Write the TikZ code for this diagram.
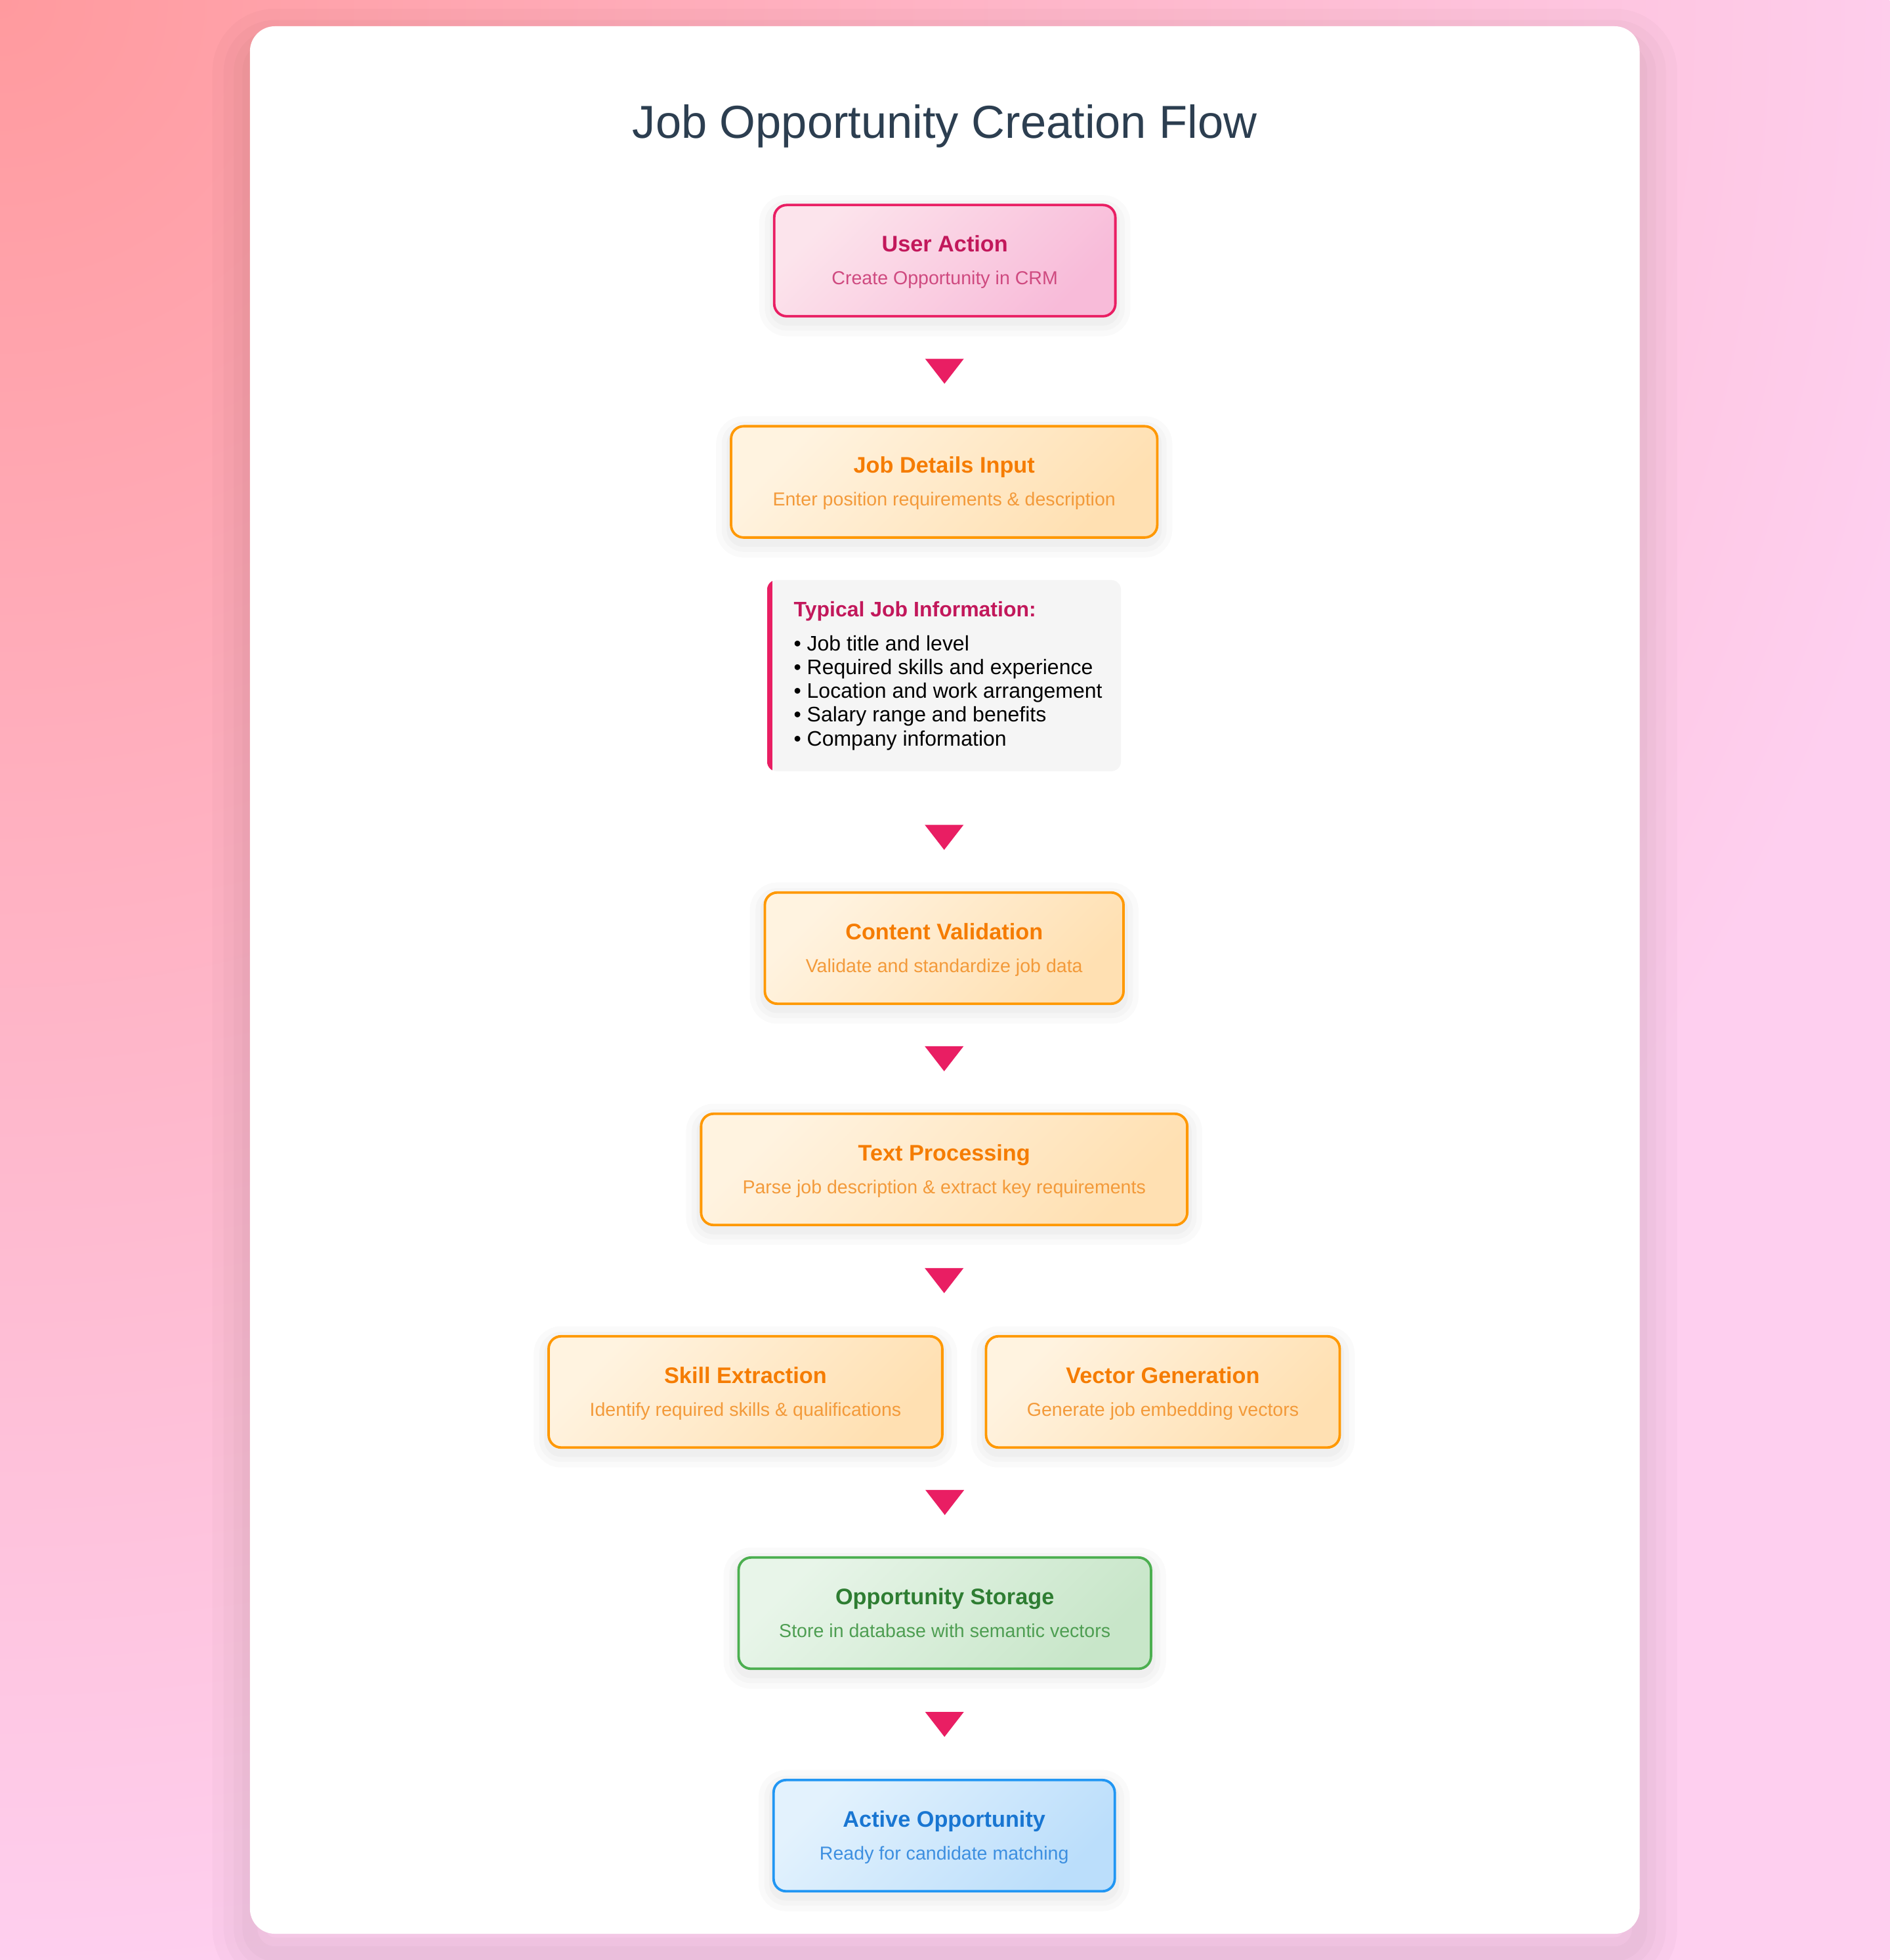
\documentclass[tikz,border=0pt]{standalone}
\usepackage{fontspec}
\setmainfont{Liberation Sans}
\usetikzlibrary{calc}

\definecolor{bgsalmon}{HTML}{FF9A9E}
\definecolor{bgpink}{HTML}{FECFEF}
\definecolor{titlegray}{HTML}{2C3E50}
\definecolor{arrowpink}{HTML}{E91E63}
\definecolor{pinkA}{HTML}{FCE4EC}
\definecolor{pinkB}{HTML}{F8BBD9}
\definecolor{pinktxt}{HTML}{C2185B}
\definecolor{pinksub}{HTML}{CF4A80}
\definecolor{orangedraw}{HTML}{FF9800}
\definecolor{orangeA}{HTML}{FFF3E0}
\definecolor{orangeB}{HTML}{FFE0B2}
\definecolor{orangetxt}{HTML}{F57C00}
\definecolor{orangesub}{HTML}{F39A3A}
\definecolor{greendraw}{HTML}{4CAF50}
\definecolor{greenA}{HTML}{E8F5E9}
\definecolor{greenB}{HTML}{C8E6C9}
\definecolor{greentxt}{HTML}{2E7D32}
\definecolor{greensub}{HTML}{4E9E52}
\definecolor{bluedraw}{HTML}{2196F3}
\definecolor{blueA}{HTML}{E3F2FD}
\definecolor{blueB}{HTML}{BBDEFB}
\definecolor{bluetxt}{HTML}{1976D2}
\definecolor{bluesub}{HTML}{3D8FE0}
\definecolor{infogray}{HTML}{F5F5F5}

\begin{document}
\begin{tikzpicture}[x=1pt,y=-1pt,
  card/.style={fill=white, rounded corners=20pt, inner sep=0pt,
    preaction={draw=black, draw opacity=0.02, line width=60pt, transform canvas={yshift=-16pt}},
    preaction={draw=black, draw opacity=0.02, line width=42pt, transform canvas={yshift=-16pt}},
    preaction={draw=black, draw opacity=0.02, line width=26pt, transform canvas={yshift=-16pt}},
    preaction={draw=black, draw opacity=0.02, line width=12pt, transform canvas={yshift=-16pt}}},
  box/.style={rounded corners=10pt, line width=2pt, minimum height=89pt, inner sep=0pt,
    preaction={draw=black, draw opacity=0.02, line width=24pt, transform canvas={yshift=-4pt}},
    preaction={draw=black, draw opacity=0.02, line width=15pt, transform canvas={yshift=-4pt}},
    preaction={draw=black, draw opacity=0.025, line width=7pt, transform canvas={yshift=-4pt}}},
  pinkbox/.style={box, draw=arrowpink, top color=pinkA, bottom color=pinkB, shading angle=45},
  orangebox/.style={box, draw=orangedraw, top color=orangeA, bottom color=orangeB, shading angle=45},
  greenbox/.style={box, draw=greendraw, top color=greenA, bottom color=greenB, shading angle=45},
  bluebox/.style={box, draw=bluedraw, top color=blueA, bottom color=blueB, shading angle=45},
  ttl/.style={anchor=base, inner sep=0pt, font=\bfseries\fontsize{18}{22}\selectfont},
  sub/.style={anchor=base, inner sep=0pt, font=\fontsize{15}{18}\selectfont},
  infobox/.style={fill=infogray, rounded corners=8pt, inner sep=0pt},
  infohead/.style={anchor=base west, inner sep=0pt, text=pinktxt, font=\bfseries\fontsize{16.8}{19}\selectfont},
  infoitem/.style={anchor=base west, inner sep=0pt, text=black, font=\fontsize{16.8}{19}\selectfont}]

  \useasboundingbox (0,0) rectangle (1512,1568);
  \begin{scope}
    \clip (0,0) rectangle (1512,1568);
    \shade[inner color=bgsalmon, outer color=bgpink] (-1580,-1580) rectangle (1580,1580);
  \end{scope}

  \node[card, minimum width=1112pt, minimum height=1526pt] at (756,784) (card) {};
  \node[anchor=base, text=titlegray, font=\fontsize{37}{44}\selectfont] at (756,110.3) (title) {Job Opportunity Creation Flow};

  \node[pinkbox, minimum width=273pt] at (756,208.5) (ua) {};
  \node[ttl, text=pinktxt] at ([yshift=7pt]ua.center) (uat) {User Action};
  \node[sub, text=pinksub] at ([yshift=-19.3pt]ua.center) (uas) {Create Opportunity in CRM};

  \node[orangebox, minimum width=341pt] at (755.5,385.5) (jd) {};
  \node[ttl, text=orangetxt] at ([yshift=7pt]jd.center) (jdt) {Job Details Input};
  \node[sub, text=orangesub] at ([yshift=-19.3pt]jd.center) (jds) {Enter position requirements \& description};

  \node[infobox, minimum width=283pt, minimum height=153pt] at (755.5,540.5) (info) {};
  \begin{scope}
    \clip[rounded corners=8pt] (info.north west) rectangle (info.south east);
    \fill[arrowpink] (info.north west) rectangle ([xshift=4pt]info.south west);
  \end{scope}
  \node[infohead] at (635,493.5) (ihead) {Typical Job Information:};
  \foreach \t [count=\i] in {Job title and level, Required skills and experience, Location and work arrangement, Salary range and benefits, Company information}
    \node[infoitem] at (635,{501.6+19*\i}) (item\i) {• \t};

  \node[orangebox, minimum width=287pt] at (755.5,758.5) (cv) {};
  \node[ttl, text=orangetxt] at ([yshift=7pt]cv.center) (cvt) {Content Validation};
  \node[sub, text=orangesub] at ([yshift=-19.3pt]cv.center) (cvs) {Validate and standardize job data};

  \node[orangebox, minimum width=389pt] at (755.5,935.5) (tp) {};
  \node[ttl, text=orangetxt] at ([yshift=7pt]tp.center) (tpt) {Text Processing};
  \node[sub, text=orangesub] at ([yshift=-19.3pt]tp.center) (tps) {Parse job description \& extract key requirements};

  \node[orangebox, minimum width=315pt] at (596.5,1113.5) (se) {};
  \node[ttl, text=orangetxt] at ([yshift=7pt]se.center) (set) {Skill Extraction};
  \node[sub, text=orangesub] at ([yshift=-19.3pt]se.center) (ses) {Identify required skills \& qualifications};

  \node[orangebox, minimum width=283pt] at (930.5,1113.5) (vg) {};
  \node[ttl, text=orangetxt] at ([yshift=7pt]vg.center) (vgt) {Vector Generation};
  \node[sub, text=orangesub] at ([yshift=-19.3pt]vg.center) (vgs) {Generate job embedding vectors};

  \node[greenbox, minimum width=330pt] at (756,1290.5) (os) {};
  \node[ttl, text=greentxt] at ([yshift=7pt]os.center) (ost) {Opportunity Storage};
  \node[sub, text=greensub] at ([yshift=-19.3pt]os.center) (oss) {Store in database with semantic vectors};

  \node[bluebox, minimum width=273pt] at (755.5,1468.5) (ao) {};
  \node[ttl, text=bluetxt] at ([yshift=7pt]ao.center) (aot) {Active Opportunity};
  \node[sub, text=bluesub] at ([yshift=-19.3pt]ao.center) (aos) {Ready for candidate matching};

  \coordinate (t1) at ($(ua.south)!0.5!(jd.north)$);
  \coordinate (t2) at ($(info.south)!0.55!(cv.north)$);
  \coordinate (t3) at ($(cv.south)!0.5!(tp.north)$);
  \coordinate (t4) at ($(tp.south)!0.5!(tp.south |- se.north)$);
  \coordinate (t5) at ($(os.north |- se.south)!0.5!(os.north)$);
  \coordinate (t6) at ($(os.south)!0.5!(ao.north)$);
  \foreach \c in {t1,t2,t3,t4,t5,t6}
    \fill[arrowpink] (\c) ++(-15.5,-10) -- ++(31,0) -- ++(-15.5,20) -- cycle;
\end{tikzpicture}
\end{document}
